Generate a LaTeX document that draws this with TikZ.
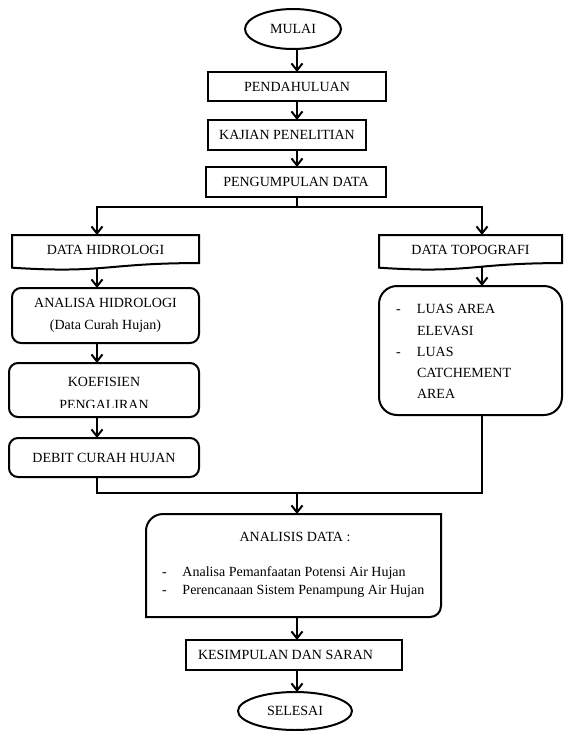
\documentclass[tikz,border=0pt]{standalone}
\usepackage{fontspec}
\setmainfont{Liberation Serif}
\usetikzlibrary{arrows.meta,shapes.geometric,calc}
\newcommand\docshp[4]{% x1, x2, top, height
  \draw[docline] (#1,#3) -- (#2,#3) -- (#2,#3+0.802*#4)
    .. controls ({(#1+#2)/2},#3+0.802*#4) and ({(#1+#2)/2},#3+1.107*#4) .. (#1,#3+0.934*#4) -- cycle;}
\begin{document}
\begin{tikzpicture}[x=1pt,y=-1pt,
  every node/.style={font=\fontsize{14}{22.5}\selectfont, inner sep=0pt, outer sep=0pt},
  tbox/.style={draw, rectangle, line width=2.9pt},
  kbox/.style={draw, rectangle, line width=2.4pt},
  rbox/.style={draw, rectangle, rounded corners=9pt, line width=2pt},
  term/.style={draw, ellipse, line width=2pt},
  docline/.style={line width=2pt, line join=miter},
  conn/.style={line width=2pt},
  arr/.style={conn, -{Straight Barb[length=7pt,width=11pt]}},
  lbl/.style={align=center}]
\fill[white] (0,0) rectangle (563,731);
\useasboundingbox (0,0) rectangle (563,731);

% top chain
\node[term, minimum width=96pt, minimum height=40pt] (mulai) at (293,29) {MULAI};
\node[tbox, minimum width=178pt, minimum height=29pt] (pend) at (297,86.5) {PENDAHULUAN};
\node[tbox, minimum width=158pt, minimum height=30pt] (kaj) at (287,135) {KAJIAN PENELITIAN};
\node[tbox, minimum width=180pt, minimum height=30pt] (peng) at (296,182) {PENGUMPULAN DATA};

\coordinate (axis) at (297,0);
\draw[arr] (axis |- mulai.south) -- (axis |- pend.north);
\draw[arr] (axis |- pend.south) -- (axis |- kaj.north);
\draw[arr] (axis |- kaj.south) -- (axis |- peng.north);

% split
\coordinate (split) at (297,207);
\coordinate (hidin) at (97,235);
\coordinate (topoin) at (482,235);
\draw[conn] (axis |- peng.south) -- (split);
\draw[arr] (split) -- (hidin |- split) -- (hidin);
\draw[arr] (split) -- (topoin |- split) -- (topoin);

% document shapes
\docshp{12}{199}{235}{35}
\docshp{379}{562}{235}{35}
\node (hid) at (105.5,250) {DATA HIDROLOGI};
\node (topo) at (470.5,250) {DATA TOPOGRAFI};
\coordinate (hidb) at (97,268);
\coordinate (topob) at (482,266);

% left column
\node[rbox, lbl, minimum width=187pt, minimum height=55pt] (ana) at (105.5,315.5)
  {ANALISA HIDROLOGI\\(Data Curah Hujan)};
\node[rbox, minimum width=190pt, minimum height=54pt] (koef) at (104,390) {};
\begin{scope}
  \clip (9,363) rectangle (199,407.5);
  \node[lbl] (koeft) at (104,393.5) {KOEFISIEN\\PENGALIRAN};
\end{scope}
\node[rbox, minimum width=190pt, minimum height=39pt] (debit) at (104,457.5) {DEBIT CURAH HUJAN};

\draw[arr] (hidb) -- (hidb |- ana.north);
\draw[arr] (hidb |- ana.south) -- (hidb |- koef.north);
\draw[arr] (hidb |- koef.south) -- (hidb |- debit.north);

% right column
\node[rbox, rounded corners=18pt, minimum width=183pt, minimum height=129pt] (luas) at (470.5,350.5) {};
\node[align=left, anchor=north west, font=\fontsize{14}{21.3}\selectfont] (luast) at (396,304.5)
  {\makebox[21pt][l]{-}LUAS AREA\\\hspace*{21pt}ELEVASI\\\makebox[21pt][l]{-}LUAS\\\hspace*{21pt}CATCHEMENT\\\hspace*{21pt}AREA};
\draw[arr] (topob) -- (topob |- luas.north);

% merge
\coordinate (merge) at (297,493);
\draw[conn, line join=miter] (hidb |- debit.south) -- (hidb |- merge) -- (topob |- merge) -- (topob |- luas.south);

% analisis box
\draw[line width=2pt] (146,565) [rounded corners=17pt] -- (146,514) -- (300,514) [sharp corners] -- (441,514) -- (441,565)
  [rounded corners=11pt] -- (441,617) -- (300,617) [sharp corners] -- (146,617) -- cycle;
\coordinate (analtop) at (297,514);
\coordinate (analbot) at (297,617);
\node (analt) at (295,537) {ANALISIS DATA :};
\node[align=left, anchor=north west, font=\fontsize{14}{18}\selectfont] (analitems) at (162,567)
  {\makebox[20.5pt][l]{-}Analisa Pemanfaatan Potensi Air Hujan\\\makebox[20.5pt][l]{-}Perencanaan Sistem Penampung Air Hujan};
\draw[arr] (merge) -- (analtop);

% end
\node[kbox, minimum width=216pt, minimum height=30pt] (kes) at (294,655) {};
\node[anchor=west] (kest) at (198,655) {KESIMPULAN DAN SARAN};
\node[term, minimum width=114pt, minimum height=38pt] (sel) at (295,711) {SELESAI};
\draw[arr] (analbot) -- (analbot |- kes.north);
\draw[arr] (analbot |- kes.south) -- (analbot |- sel.north);
\end{tikzpicture}
\end{document}
